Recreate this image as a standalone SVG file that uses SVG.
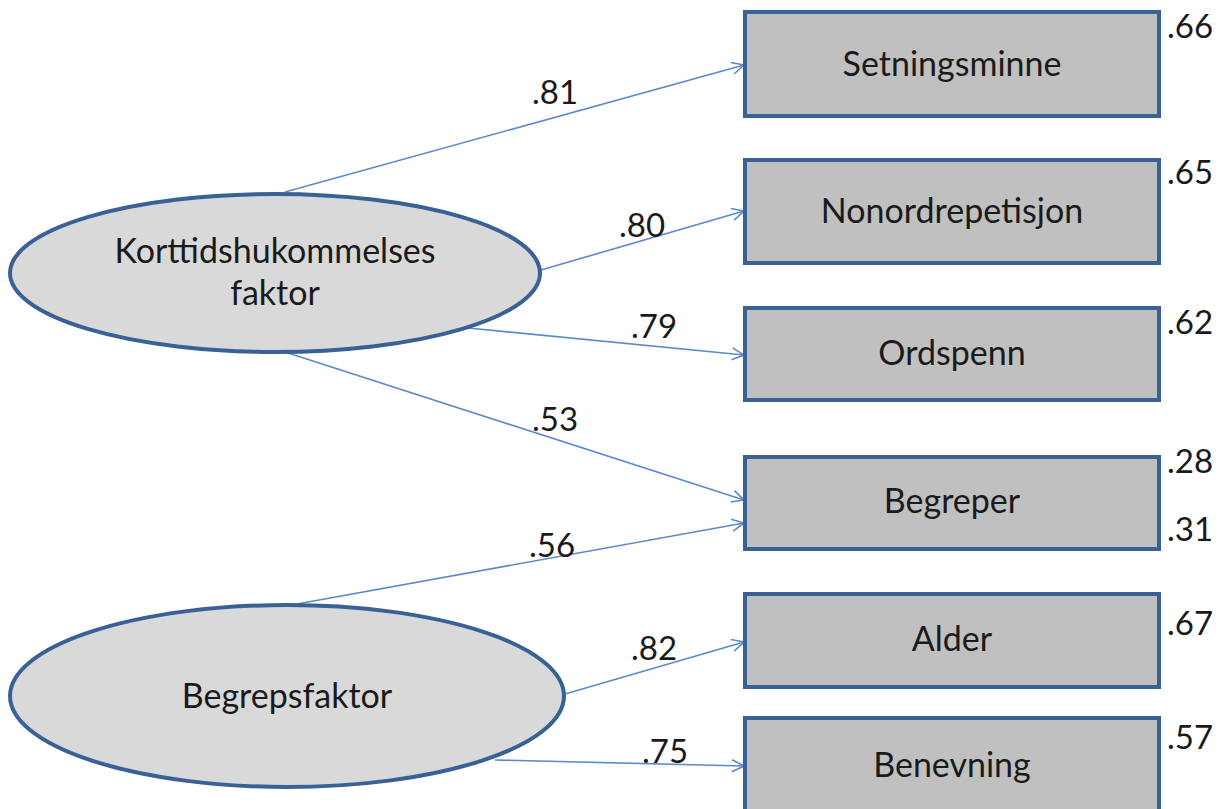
<svg xmlns="http://www.w3.org/2000/svg" width="1225" height="809" viewBox="0 0 1225 809">
  <style>
    .lat { fill: #D9D9D9; stroke: #3A6195; stroke-width: 4; }
    .obs { fill: #C0C0C0; stroke: #3A6195; stroke-width: 4; }
    .lbl { font-family: Lato, "Liberation Sans", sans-serif; font-size: 34px; fill: #1a1a1a; text-anchor: middle; }
    .num { font-family: Lato, "Liberation Sans", sans-serif; font-size: 33px; fill: #1a1a1a; }
    .edge { stroke: #5B8ACB; stroke-width: 1.6; fill: none; marker-end: url(#arr); }
  </style>
  <defs>
    <marker id="arr" viewBox="0 0 14 14" refX="13" refY="7" markerWidth="14" markerHeight="14" markerUnits="userSpaceOnUse" orient="auto">
      <path d="M1,1 L13,7 L1,13" fill="none" stroke="#5B8ACB" stroke-width="1.6"/>
    </marker>
  </defs>
  <rect width="1225" height="809" fill="#ffffff"/>

  <!-- loadings -->
  <g id="connectors">
    <line class="edge" x1="285" y1="192" x2="744" y2="65"/>
    <line class="edge" x1="541" y1="270" x2="744" y2="211"/>
    <line class="edge" x1="468" y1="328" x2="744" y2="355"/>
    <line class="edge" x1="285" y1="352" x2="744" y2="500"/>
    <line class="edge" x1="297" y1="604" x2="744" y2="523"/>
    <line class="edge" x1="565" y1="694" x2="744" y2="642"/>
    <line class="edge" x1="495" y1="760" x2="744" y2="766"/>
    <text class="num" x="532" y="104">.81</text>
    <text class="num" x="619" y="237">.80</text>
    <text class="num" x="631" y="338">.79</text>
    <text class="num" x="532" y="431">.53</text>
    <text class="num" x="529" y="557">.56</text>
    <text class="num" x="631" y="660">.82</text>
    <text class="num" x="642" y="763">.75</text>
  </g>

  <!-- latent factors -->
  <g id="korttid">
    <ellipse class="lat" cx="275" cy="273" rx="265" ry="79"/>
    <text class="lbl" x="275" y="263">Korttidshukommelses</text>
    <text class="lbl" x="275" y="305">faktor</text>
  </g>
  <g id="begrepsfaktor">
    <ellipse class="lat" cx="287" cy="696" rx="277" ry="91"/>
    <text class="lbl" x="287" y="708">Begrepsfaktor</text>
  </g>

  <!-- observed measures -->
  <g id="setningsminne">
    <rect class="obs" x="745" y="12" width="414" height="104"/>
    <text class="lbl" x="952" y="76">Setningsminne</text>
    <text class="num" x="1167" y="38">.66</text>
  </g>
  <g id="nonordrepetisjon">
    <rect class="obs" x="745" y="160" width="414" height="103"/>
    <text class="lbl" x="952" y="223">Nonordrepetisjon</text>
    <text class="num" x="1167" y="184">.65</text>
  </g>
  <g id="ordspenn">
    <rect class="obs" x="745" y="308" width="414" height="92"/>
    <text class="lbl" x="952" y="365">Ordspenn</text>
    <text class="num" x="1167" y="334">.62</text>
  </g>
  <g id="begreper">
    <rect class="obs" x="745" y="457" width="414" height="92"/>
    <text class="lbl" x="952" y="513">Begreper</text>
    <text class="num" x="1167" y="473">.28</text>
    <text class="num" x="1167" y="541">.31</text>
  </g>
  <g id="alder">
    <rect class="obs" x="745" y="594" width="414" height="93"/>
    <text class="lbl" x="952" y="651">Alder</text>
    <text class="num" x="1167" y="635">.67</text>
  </g>
  <g id="benevning">
    <rect class="obs" x="745" y="718" width="414" height="110"/>
    <text class="lbl" x="952" y="777">Benevning</text>
    <text class="num" x="1167" y="749">.57</text>
  </g>
</svg>
